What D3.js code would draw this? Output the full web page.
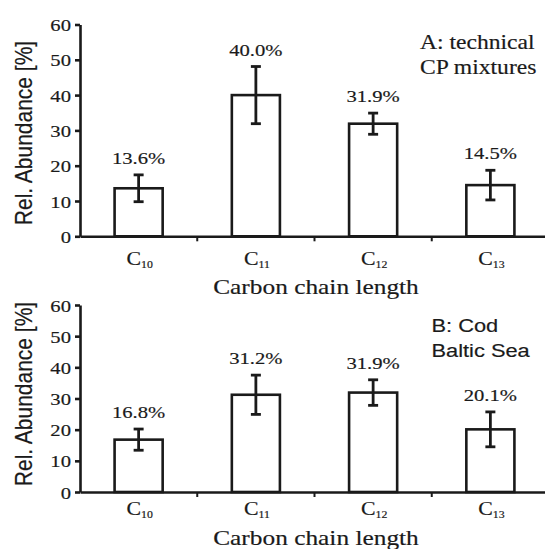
<!DOCTYPE html>
<html>
<head>
<meta charset="utf-8">
<script src="https://cdn.jsdelivr.net/npm/d3@7"></script>
<style>
  html, body { margin: 0; padding: 0; background: #fff; }
  svg { display: block; }
</style>
</head>
<body>
<svg id="chart" width="545" height="549"></svg>
<script>
// Chain-length categories (subscript numbers of C)
const categories = ["10", "11", "12", "13"];
// Panel A: technical CP mixtures
const panelAValues = [13.6, 40.0, 31.9, 14.5];
const panelAErrors = [3.8, 8.1, 3.0, 4.2];
// Panel B: cod, Baltic Sea
const panelBValues = [16.8, 31.2, 31.9, 20.1];
const panelBErrors = [3.4, 6.3, 4.1, 5.6];
const yTicks = [0, 10, 20, 30, 40, 50, 60];
const panelANote = ["A: technical", "CP mixtures"];
const panelBNote = ["B: Cod", "Baltic Sea"];
const xTitle = "Carbon chain length";
const yTitle = "Rel. Abundance [%]";

const INK = "#1a1a1a";
const SERIF = "'Liberation Serif', 'Times New Roman', serif";
const SANS = "'Liberation Sans', Arial, sans-serif";
const SX = 1.18; // horizontal widening of the lettering

const svg = d3.select("#chart");

function stretchedText(g, x, y, str, opts) {
  const t = g.append("text")
    .attr("transform", `translate(${x},${y}) scale(${SX},1)${opts.rotate ? " rotate(-90)" : ""}`)
    .attr("font-family", opts.family || SERIF)
    .attr("font-size", opts.size)
    .attr("text-anchor", opts.anchor || "start")
    .attr("fill", INK)
    .attr("stroke", INK)
    .attr("stroke-width", 0.18);
  if (str !== null) t.text(str);
  return t;
}

function drawPanel(cfg) {
  const g = svg.append("g");
  const x = d3.scaleBand().domain(categories).range([80, 549]).paddingInner(0).paddingOuter(0);
  const y = d3.scaleLinear().domain([0, 60]).range([cfg.y0, cfg.y60]);
  const barW = x.bandwidth() * 0.41;

  // y axis
  const ya = g.append("g").attr("transform", "translate(80,0)")
    .call(d3.axisLeft(y).tickValues(yTicks).tickSize(5).tickSizeOuter(0).tickPadding(0));
  ya.select(".domain").attr("stroke", INK).attr("stroke-width", 2.6);
  ya.selectAll(".tick line").attr("stroke", INK).attr("stroke-width", 2.6);
  ya.selectAll(".tick text").remove();
  ya.selectAll(".tick").each(function(d) {
    stretchedText(d3.select(this), -9, 6, d, { size: 17.5, anchor: "end" });
  });

  // bars
  g.selectAll("rect.bar").data(cfg.values).join("rect")
    .attr("class", "bar")
    .attr("x", (d, i) => x(categories[i]) + x.bandwidth() / 2 - barW / 2)
    .attr("width", barW)
    .attr("y", d => y(d))
    .attr("height", d => y(0) - y(d))
    .attr("fill", "#fff")
    .attr("stroke", INK)
    .attr("stroke-width", 2.6);

  // error bars
  const cx = i => x(categories[i]) + x.bandwidth() / 2;
  const eb = g.selectAll("g.err").data(cfg.values).join("g").attr("class", "err")
    .attr("stroke", INK).attr("stroke-width", 2.8);
  eb.append("line").attr("x1", (d, i) => cx(i)).attr("x2", (d, i) => cx(i))
    .attr("y1", (d, i) => y(d + cfg.errors[i])).attr("y2", (d, i) => y(d - cfg.errors[i]));
  eb.append("line").attr("x1", (d, i) => cx(i) - 5).attr("x2", (d, i) => cx(i) + 5)
    .attr("y1", (d, i) => y(d + cfg.errors[i])).attr("y2", (d, i) => y(d + cfg.errors[i]));
  eb.append("line").attr("x1", (d, i) => cx(i) - 5).attr("x2", (d, i) => cx(i) + 5)
    .attr("y1", (d, i) => y(d - cfg.errors[i])).attr("y2", (d, i) => y(d - cfg.errors[i]));

  // value labels
  cfg.values.forEach((v, i) => {
    stretchedText(g, cx(i), y(v + cfg.errors[i]) - 11, v.toFixed(1) + "%", { size: 17.5, anchor: "middle" });
  });

  // x axis
  const xa = g.append("g").attr("transform", `translate(0,${y(0)})`)
    .call(d3.axisBottom(x).tickSize(0).tickSizeOuter(0).tickFormat(""));
  xa.select(".domain").attr("stroke", INK).attr("stroke-width", 2.6);
  g.selectAll("line.bound").data(categories.slice(1)).join("line")
    .attr("class", "bound")
    .attr("x1", d => x(d)).attr("x2", d => x(d))
    .attr("y1", y(0)).attr("y2", y(0) + 5)
    .attr("stroke", INK).attr("stroke-width", 2);

  // category labels C with subscript
  categories.forEach(c => {
    const t = stretchedText(g, cx(categories.indexOf(c)) + 1, cfg.catBase, null, { size: 18.5, anchor: "middle" });
    t.append("tspan").text("C");
    t.append("tspan").attr("font-size", 10).attr("dy", 3).text(c);
  });

  // axis titles
  stretchedText(g, 316, cfg.titleBase, xTitle, { size: 21.5, anchor: "middle" });
  stretchedText(g, 32, cfg.yLabelMid, yTitle, { size: 21, anchor: "middle", family: SANS, rotate: true });

  // panel note
  cfg.note.forEach((line, i) => {
    stretchedText(g, cfg.noteX, cfg.noteBase + i * cfg.noteGap, line,
      { size: cfg.noteSize, family: cfg.noteFamily });
  });
}

drawPanel({
  values: panelAValues, errors: panelAErrors,
  y0: 236.3, y60: 24.5, catBase: 265, titleBase: 294, yLabelMid: 133,
  note: panelANote, noteX: 420, noteBase: 49, noteGap: 25, noteSize: 20, noteFamily: SERIF
});
drawPanel({
  values: panelBValues, errors: panelBErrors,
  y0: 492, y60: 305, catBase: 515, titleBase: 545, yLabelMid: 394,
  note: panelBNote, noteX: 431.5, noteBase: 331.5, noteGap: 25.5, noteSize: 18.5, noteFamily: SANS
});
</script>
</body>
</html>
